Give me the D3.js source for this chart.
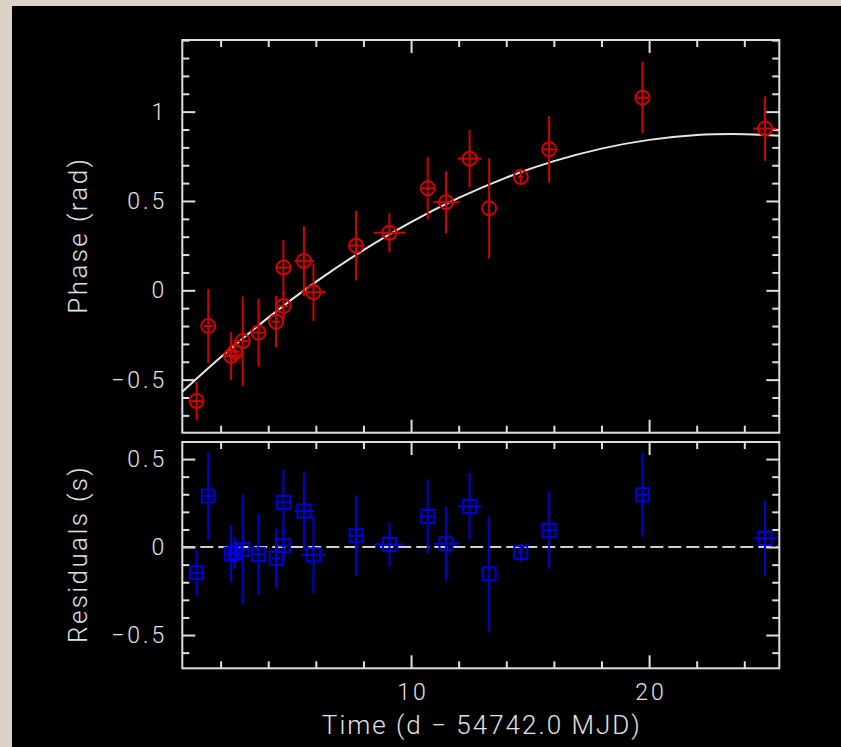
<!DOCTYPE html>
<html>
<head>
<meta charset="utf-8">
<script src="https://cdn.jsdelivr.net/npm/d3@7"></script>
<style>
  body { margin: 0; background: #dcd3c8; }
  svg { display: block; }
  text { font-family: "Roboto", "DejaVu Sans", sans-serif; font-weight: 300; fill: #e2e2e2; }
</style>
</head>
<body>
<script>
// data
const timeD    = [0.99, 1.48, 2.44, 2.60, 2.93, 3.59, 4.33, 4.64, 4.64, 5.50, 5.90, 7.69, 9.09, 10.70, 11.47, 12.46, 13.28, 14.61, 15.80, 19.72, 24.87];
const timeErr  = [0.3, 0.2, 0.25, 0.2, 0.25, 0.25, 0.17, 0.2, 0.33, 0.4, 0.5, 0.27, 0.66, 0.25, 0.55, 0.5, 0.02, 0.12, 0.28, 0.25, 0.5];
const phase    = [-0.62, -0.20, -0.368, -0.344, -0.284, -0.237, -0.176, -0.088, 0.127, 0.164, -0.011, 0.25, 0.322, 0.571, 0.493, 0.737, 0.459, 0.634, 0.789, 1.078, 0.905];
const phaseErr = [0.107, 0.207, 0.134, 0.065, 0.25, 0.19, 0.144, 0.08, 0.156, 0.196, 0.16, 0.195, 0.11, 0.174, 0.174, 0.16, 0.28, 0.044, 0.187, 0.2, 0.18];
const resid    = [-0.146, 0.29, -0.04, -0.032, -0.013, -0.042, -0.064, 0.008, 0.254, 0.205, -0.044, 0.064, 0.015, 0.174, 0.019, 0.231, -0.153, -0.03, 0.095, 0.297, 0.049];
const residErr = [0.13, 0.25, 0.163, 0.088, 0.31, 0.23, 0.17, 0.1, 0.185, 0.22, 0.22, 0.23, 0.126, 0.21, 0.21, 0.19, 0.33, 0.05, 0.22, 0.24, 0.216];

// fitted model curve
const modelT = [0.39, 2, 4, 6, 8, 10, 12, 14, 16, 18, 20, 22, 24, 25.47];
const modelY = [-0.568, -0.375, -0.153, 0.047, 0.225, 0.382, 0.517, 0.631, 0.723, 0.793, 0.842, 0.869, 0.874, 0.865];

const timeTicks  = [10, 20];
const timeMinor  = [2, 4, 6, 8, 12, 14, 16, 18, 22, 24];
const phaseTicks = [-0.5, 0, 0.5, 1];
const phaseMinor = [-0.7, -0.6, -0.4, -0.3, -0.2, -0.1, 0.1, 0.2, 0.3, 0.4, 0.6, 0.7, 0.8, 0.9, 1.1, 1.2, 1.3, 1.4];
const residTicks = [-0.5, 0, 0.5];
const residMinor = [-0.6, -0.4, -0.3, -0.2, -0.1, 0.1, 0.2, 0.3, 0.4];

const W = 841, H = 747;
const left = 182.3, right = 779.3;
const top1 = 40, bot1 = 432.7;
const top2 = 442, bot2 = 668.3;
const fg = "#dedede";

let svg = d3.select("body").append("svg").attr("width", W).attr("height", H);
svg.append("rect").attr("x", 12).attr("y", 6).attr("width", W - 12).attr("height", H - 6).attr("fill", "#000");

let x = d3.scaleLinear().domain([0.39, 25.47]).range([left, right]);
let y1 = d3.scaleLinear().domain([-0.797, 1.401]).range([bot1, top1]);
let y2 = d3.scaleLinear().domain([-0.689, 0.597]).range([bot2, top2]);
let fmt = d3.format("~g");

function frame(top, bot, y, yTicks, yMinor, showX) {
    let g = svg.append("g");
    let axes = [
        [d3.axisLeft(y), left, 0, yTicks, yMinor, true],
        [d3.axisRight(y), right, 0, yTicks, yMinor, false],
        [d3.axisTop(x), 0, top, timeTicks, timeMinor, false],
        [d3.axisBottom(x), 0, bot, timeTicks, timeMinor, showX],
    ];
    axes.forEach(([ax, tx, ty, major, minor, lab]) => {
        let a = g.append("g").attr("transform", `translate(${tx},${ty})`)
            .call(ax.tickValues(major).tickSize(-13).tickPadding(ty ? 15 : 15).tickFormat(lab ? fmt : () => ""));
        a.select(".domain").remove();
        a.selectAll("line").attr("stroke", fg).attr("stroke-width", 2);
        a.selectAll("text").attr("fill", fg).attr("font-size", 23)
            .attr("font-family", null).attr("font-weight", null)
            .style("letter-spacing", "3px")
            .attr("dx", ty ? "1.5px" : "0px");
        let m = g.append("g").attr("transform", `translate(${tx},${ty})`)
            .call(ax.tickValues(minor).tickSize(-7).tickFormat(() => ""));
        m.select(".domain").remove();
        m.selectAll("line").attr("stroke", fg).attr("stroke-width", 2);
    });
    g.append("rect").attr("x", left).attr("y", top).attr("width", right - left).attr("height", bot - top)
        .attr("fill", "none").attr("stroke", fg).attr("stroke-width", 2);
}

frame(top1, bot1, y1, phaseTicks, phaseMinor, false);
frame(top2, bot2, y2, residTicks, residMinor, true);

// model line
svg.append("path")
    .attr("d", d3.line().curve(d3.curveCatmullRom).x(d => x(d[0])).y(d => y1(d[1]))(d3.zip(modelT, modelY)))
    .attr("fill", "none").attr("stroke", "#e6e6e6").attr("stroke-width", 2);

// zero line for residuals
svg.append("line")
    .attr("x1", left).attr("x2", right).attr("y1", y2(0)).attr("y2", y2(0))
    .attr("stroke", "#cfcfcf").attr("stroke-width", 2).attr("stroke-dasharray", "13,5");

function points(y, vals, errs, color, shape) {
    let g = svg.append("g").attr("stroke", color).attr("stroke-width", 2).attr("fill", "none");
    let pts = g.selectAll("g").data(d3.range(timeD.length)).join("g");
    pts.append("line")
        .attr("x1", i => x(timeD[i])).attr("x2", i => x(timeD[i]))
        .attr("y1", i => y(vals[i] - errs[i])).attr("y2", i => y(vals[i] + errs[i]));
    pts.append("line")
        .attr("x1", i => x(timeD[i] - timeErr[i])).attr("x2", i => x(timeD[i] + timeErr[i]))
        .attr("y1", i => y(vals[i])).attr("y2", i => y(vals[i]));
    if (shape == "circle") {
        pts.append("circle").attr("cx", i => x(timeD[i])).attr("cy", i => y(vals[i])).attr("r", 7);
    } else {
        pts.append("rect").attr("x", i => x(timeD[i]) - 6.5).attr("y", i => y(vals[i]) - 6.5)
            .attr("width", 13).attr("height", 13);
    }
}

points(y1, phase, phaseErr, "#d40000", "circle");
points(y2, resid, residErr, "#0000dc", "square");

// axis titles
function title(t, tx, ty, rot, ls) {
    svg.append("text").attr("transform", `translate(${tx},${ty}) rotate(${rot})`)
        .attr("text-anchor", "middle").attr("font-size", 26)
        .style("letter-spacing", ls + "px").attr("dx", ls / 2)
        .text(t);
}
title("Phase (rad)", 87, (top1 + bot1) / 2, -90, 2.4);
title("Residuals (s)", 87, (top2 + bot2) / 2, -90, 2.4);
title("Time (d \u2212 54742.0 MJD)", (left + right) / 2, 734, 0, 2);
</script>
</body>
</html>
